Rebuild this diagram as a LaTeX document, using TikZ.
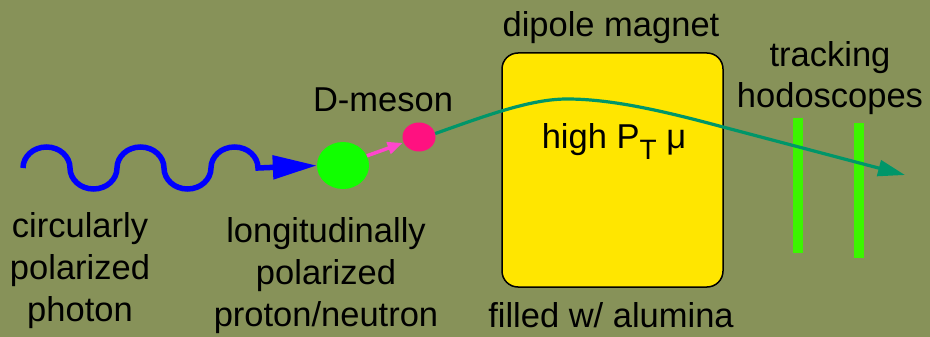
\documentclass[tikz,border=0pt]{standalone}
\usepackage{fontspec}
\setmainfont{Liberation Sans}
\usetikzlibrary{arrows.meta,shapes.geometric}
\definecolor{bgolive}{RGB}{135,146,89}
\definecolor{photonblue}{RGB}{0,0,255}
\definecolor{nucleongreen}{RGB}{17,255,0}
\definecolor{mesonpink}{RGB}{255,17,128}
\definecolor{decaypink}{RGB}{255,70,205}
\definecolor{muontrack}{RGB}{0,150,105}
\definecolor{magnetyellow}{RGB}{255,230,0}
\definecolor{hodogreen}{RGB}{60,245,0}
\tikzset{
  lbl/.style={font=\fontsize{34.5}{42}\selectfont, inner sep=0pt, align=center, anchor=base},
  particle/.style={ellipse, draw=none, inner sep=0pt},
  hodobar/.style={fill=hodogreen, draw=none},
}
\begin{document}
\begin{tikzpicture}[x=1pt,y=-1pt]
  % canvas
  \fill[bgolive] (0,0) rectangle (930,337);
  \useasboundingbox (0,0) rectangle (930,337);

  % dipole magnet
  \node[draw=black, line width=1.5pt, fill=magnetyellow, rounded corners=16pt,
        minimum width=221pt, minimum height=234pt, inner sep=0pt] (magnet) at (612.5,170) {};

  % tracking hodoscopes
  \fill[hodobar] (793,118) rectangle (803,253);
  \fill[hodobar] (854,123) rectangle (864,258);

  % particles
  \node[particle, fill=nucleongreen, minimum width=52pt, minimum height=47pt] (nucleon) at (343,165.5) {};
  \node[particle, fill=mesonpink, minimum width=33pt, minimum height=29pt] (meson) at (419,137) {};

  % photon wave
  \coordinate (wstart) at (23,168);
  \draw[photonblue, line width=5.5pt, -{Triangle[length=44pt,width=23pt]}]
    (wstart) arc[start angle=180, end angle=0, x radius=23.5pt, y radius=21pt]
             arc[start angle=180, end angle=360, x radius=23.5pt, y radius=21pt]
             arc[start angle=180, end angle=0, x radius=23.5pt, y radius=21pt]
             arc[start angle=180, end angle=360, x radius=23.5pt, y radius=21pt]
             arc[start angle=180, end angle=0, x radius=23.5pt, y radius=21pt]
             -- (nucleon.west);

  % D-meson production
  \draw[decaypink, line width=3.5pt, -{Triangle[length=15pt,width=12pt]}, shorten >=1pt]
    (nucleon.22) -- (meson.200);

  % muon track through the magnet
  \coordinate (muend) at (905,175);
  \draw[muontrack, line width=3.2pt, -{Triangle[length=27pt,width=16pt]}]
    (meson.12) .. controls (485,116) and (530,99) .. (567,99)
               .. controls (610,99) and (660,110) .. (723,127) -- (muend);

  % labels (multi-line labels sit on the baseline of their last line)
  \node[lbl] (tmagnet) at (611,37) {dipole magnet};
  \node[lbl] (tmeson) at (383,112) {D-meson};
  \node[lbl] (tphoton) at (80,321.5) {circularly\\polarized\\photon};
  \node[lbl] (tnucleon) at (326,326) {longitudinally\\polarized\\proton/neutron};
  \node[lbl] (thighpt) at (614,148) {high P\raisebox{-12pt}{\fontsize{28}{28}\selectfont T} μ};
  \node[lbl] (tfilled) at (611,327) {filled w/ alumina};
  \node[lbl] (thodo) at (830,108) {tracking\\hodoscopes};
\end{tikzpicture}
\end{document}
